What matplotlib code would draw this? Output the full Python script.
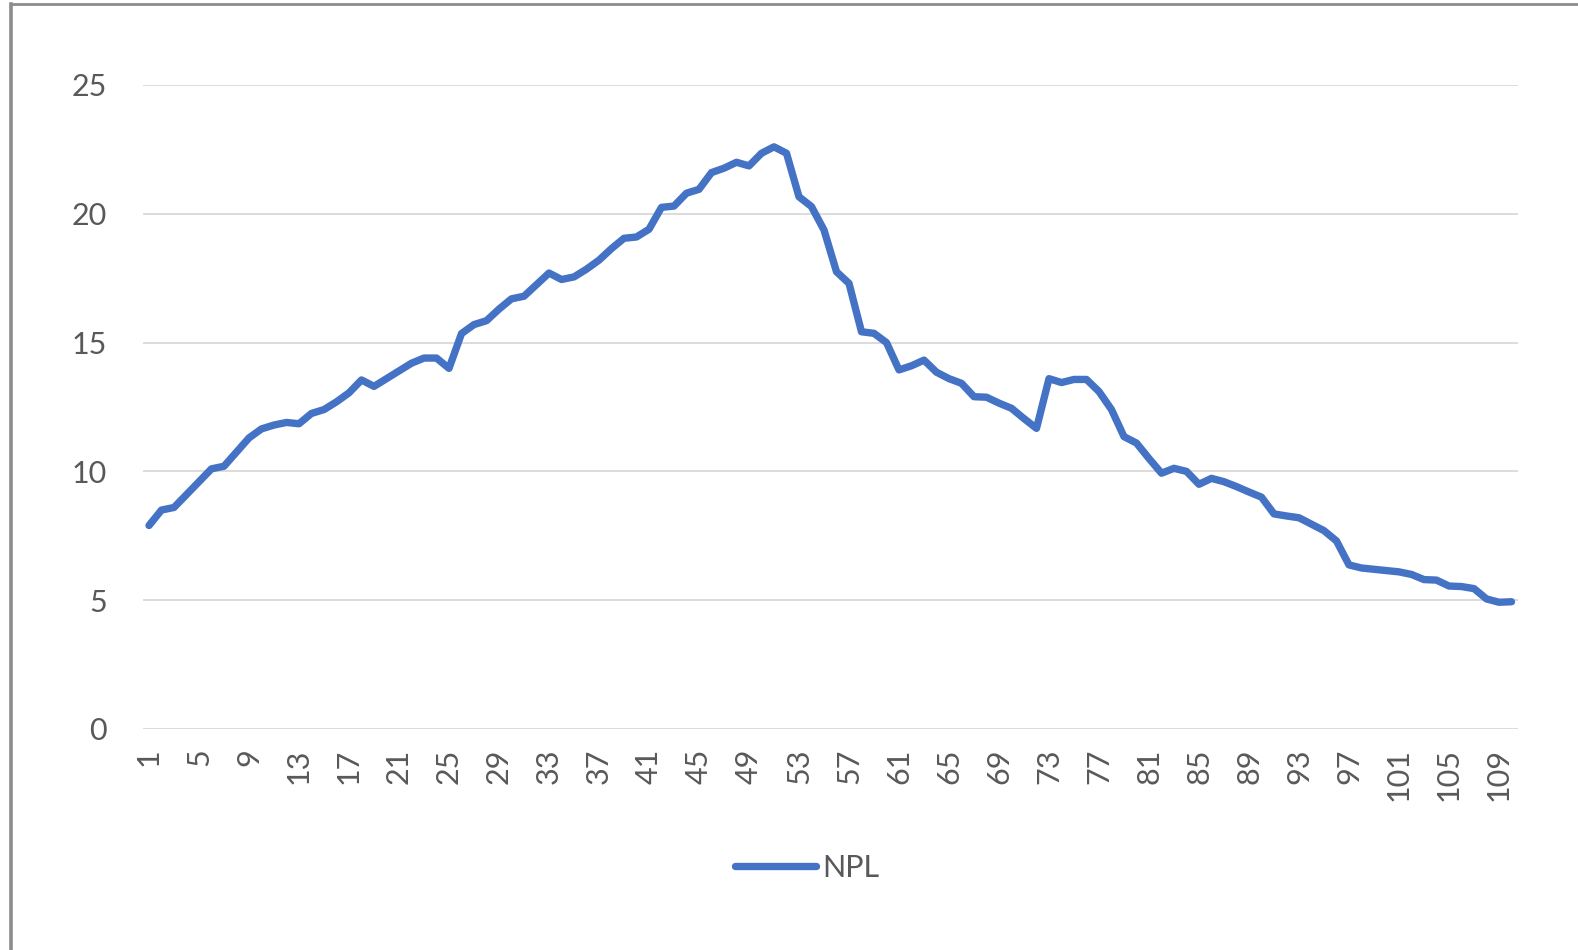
import matplotlib
matplotlib.use("Agg")
import matplotlib.pyplot as plt
from matplotlib.lines import Line2D

periods = list(range(1, 111))
npl = [7.9, 8.5, 8.6, 9.1, 9.6, 10.1, 10.2, 10.75, 11.3, 11.65,
       11.8, 11.9, 11.85, 12.25, 12.4, 12.7, 13.05, 13.55, 13.3, 13.6,
       13.9, 14.2, 14.4, 14.4, 14.0, 15.35, 15.7, 15.85, 16.3, 16.7,
       16.8, 17.25, 17.7, 17.45, 17.55, 17.85, 18.2, 18.65, 19.05, 19.1,
       19.4, 20.25, 20.3, 20.8, 20.95, 21.6, 21.77, 22.0, 21.86, 22.35,
       22.6, 22.35, 20.66, 20.28, 19.37, 17.75, 17.3, 15.42, 15.36, 15.0,
       13.94, 14.1, 14.32, 13.85, 13.6, 13.42, 12.9, 12.88, 12.65, 12.45,
       12.05, 11.67, 13.6, 13.45, 13.57, 13.57, 13.1, 12.4, 11.35, 11.1,
       10.5, 9.93, 10.12, 10.0, 9.5, 9.73, 9.6, 9.41, 9.2, 9.0,
       8.35, 8.27, 8.2, 7.95, 7.7, 7.3, 6.37, 6.25, 6.2, 6.15,
       6.1, 6.0, 5.8, 5.78, 5.55, 5.53, 5.45, 5.05, 4.92, 4.94]
x_tick_labels = [str(p) for p in periods[::4]]
y_ticks = [0, 5, 10, 15, 20, 25]
series_name = "NPL"

W, H = 1578, 950
fig = plt.figure(figsize=(W / 100, H / 100), dpi=100)
fig.patch.set_facecolor("white")

left, right, bottom, top = 142.75, 1517.75, 729, 85
ax = fig.add_axes([left / W, 1 - bottom / H, (right - left) / W, (bottom - top) / H])

line_color = "#4472C4"
text_color = "#595959"
font = "Lato"
fs = 22
lw = 5.3

ax.plot(periods, npl, color=line_color, linewidth=lw, solid_joinstyle="round",
        solid_capstyle="round", zorder=3)

ax.set_xlim(0.5, 110.5)
ax.set_ylim(0, 25)
ax.set_yticks(y_ticks)
ax.set_yticklabels([str(v) for v in y_ticks], fontsize=fs, color=text_color, family=font)
ax.set_xticks(periods[::4])
ax.set_xticklabels(x_tick_labels, rotation=90, fontsize=fs, color=text_color,
                   family=font, ha="center", va="top")
ax.tick_params(axis="y", length=0, pad=26)
ax.tick_params(axis="x", length=0, pad=14)
ax.grid(axis="y", color="#d9d9d9", linewidth=1.3, zorder=0)
ax.grid(axis="x", visible=False)
for s in ax.spines.values():
    s.set_visible(False)

handle = Line2D([], [], color=line_color, linewidth=lw, solid_capstyle="round")
leg = fig.legend([handle], [series_name], loc="center left",
                 bbox_to_anchor=(735 / W, 1 - 868 / H), frameon=False,
                 borderpad=0, borderaxespad=0, handlelength=2.65, handletextpad=0.22,
                 prop={"family": font, "size": fs})
for t in leg.get_texts():
    t.set_color(text_color)

# outer chart border (top and left)
fig.add_artist(Line2D([10.5 / W, 10.5 / W], [0, 1 - 4 / H], transform=fig.transFigure,
                      color="#8c8c8c", linewidth=2.6))
fig.add_artist(Line2D([10.5 / W, 1], [1 - 4 / H, 1 - 4 / H], transform=fig.transFigure,
                      color="#8c8c8c", linewidth=2.0))

fig.savefig("out.png", dpi=100, facecolor="white")
